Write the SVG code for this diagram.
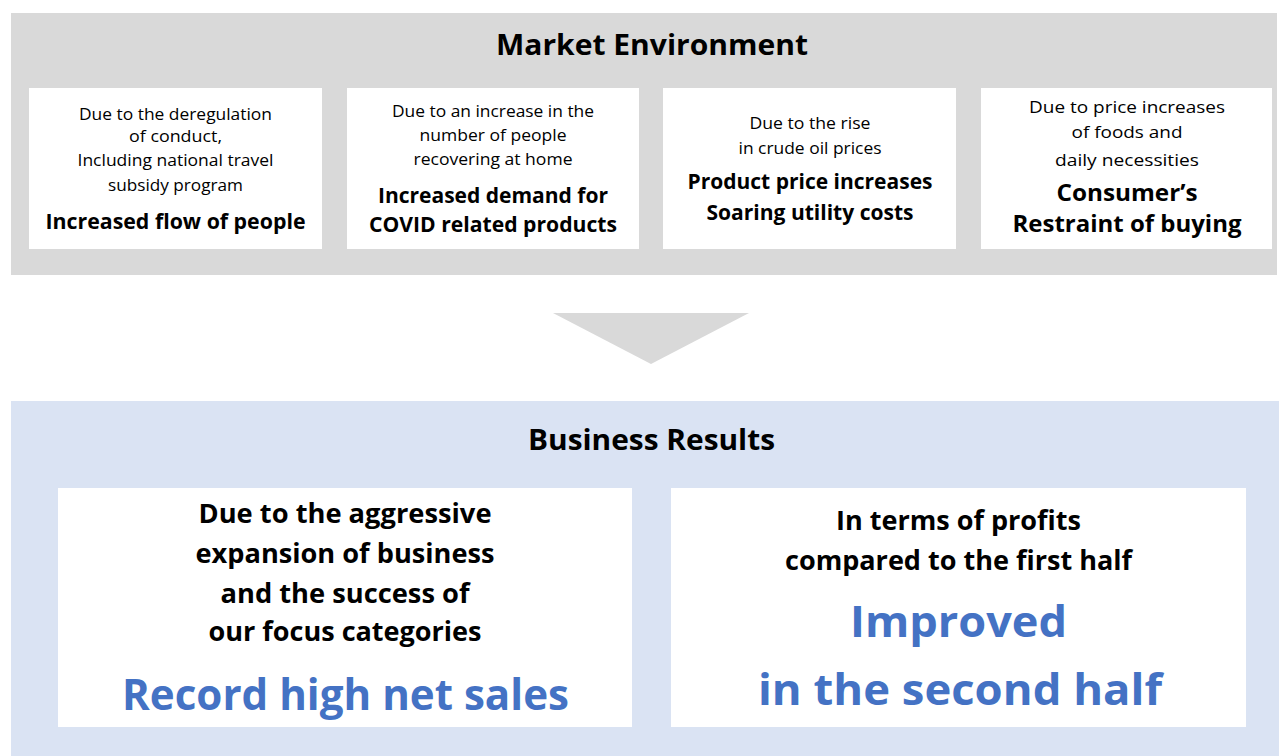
<svg xmlns="http://www.w3.org/2000/svg" width="1279" height="756" viewBox="0 0 1279 756">
  <style>
    text { font-family: "Open Sans", "Liberation Sans", sans-serif; fill: #000; text-anchor: middle; }
    .title { font-size: 29px; font-weight: 700; }
    .note { font-size: 16.5px; font-weight: 400; }
    .head { font-size: 22px; font-weight: 700; }
    .head2 { font-size: 24px; font-weight: 700; }
    .body { font-size: 26px; font-weight: 700; }
    .big { font-size: 43px; font-weight: 700; fill: #4472C4; }
    .panel-env { fill: #D9D9D9; }
    .panel-res { fill: #DAE3F3; }
    .card { fill: #FFFFFF; }
  </style>

  <rect width="1279" height="756" fill="#FFFFFF"/>

  <!-- Market environment panel -->
  <g id="market-environment">
    <rect class="panel-env" x="11" y="13" width="1266" height="262"/>
    <text class="title" x="652" y="55" textLength="312" lengthAdjust="spacingAndGlyphs">Market Environment</text>
  </g>

  <g id="factor-travel">
    <rect class="card" x="29" y="88" width="293" height="161"/>
    <text class="note" x="175.5" y="120" textLength="193" lengthAdjust="spacingAndGlyphs">Due to the deregulation</text>
    <text class="note" x="175.5" y="142" textLength="93" lengthAdjust="spacingAndGlyphs">of conduct,</text>
    <text class="note" x="175.5" y="166" textLength="196" lengthAdjust="spacingAndGlyphs">Including national travel</text>
    <text class="note" x="175.5" y="191" textLength="135" lengthAdjust="spacingAndGlyphs">subsidy program</text>
    <text class="head" x="175.5" y="229" textLength="260" lengthAdjust="spacingAndGlyphs">Increased flow of people</text>
  </g>

  <g id="factor-covid">
    <rect class="card" x="347" y="88" width="292" height="161"/>
    <text class="note" x="493" y="117" textLength="202" lengthAdjust="spacingAndGlyphs">Due to an increase in the</text>
    <text class="note" x="493" y="141" textLength="147" lengthAdjust="spacingAndGlyphs">number of people</text>
    <text class="note" x="493" y="165" textLength="159" lengthAdjust="spacingAndGlyphs">recovering at home</text>
    <text class="head" x="493" y="203" textLength="230" lengthAdjust="spacingAndGlyphs">Increased demand for</text>
    <text class="head" x="493" y="232" textLength="248" lengthAdjust="spacingAndGlyphs">COVID related products</text>
  </g>

  <g id="factor-oil">
    <rect class="card" x="663" y="88" width="293" height="161"/>
    <text class="note" x="810" y="129" textLength="121" lengthAdjust="spacingAndGlyphs">Due to the rise</text>
    <text class="note" x="810" y="154" textLength="143" lengthAdjust="spacingAndGlyphs">in crude oil prices</text>
    <text class="head" x="810" y="189" textLength="245" lengthAdjust="spacingAndGlyphs">Product price increases</text>
    <text class="head" x="810" y="220" textLength="207" lengthAdjust="spacingAndGlyphs">Soaring utility costs</text>
  </g>

  <g id="factor-prices">
    <rect class="card" x="981" y="88" width="291" height="161"/>
    <text class="note" x="1127" y="113" textLength="196" lengthAdjust="spacingAndGlyphs">Due to price increases</text>
    <text class="note" x="1127" y="138" textLength="111" lengthAdjust="spacingAndGlyphs">of foods and</text>
    <text class="note" x="1127" y="166" textLength="144" lengthAdjust="spacingAndGlyphs">daily necessities</text>
    <text class="head2" x="1127" y="201" textLength="141" lengthAdjust="spacingAndGlyphs">Consumer’s</text>
    <text class="head2" x="1127" y="232" textLength="229" lengthAdjust="spacingAndGlyphs">Restraint of buying</text>
  </g>

  <!-- Downward flow arrow -->
  <g id="connectors">
    <polygon points="553,313 749,313 651,364" fill="#D9D9D9"/>
  </g>

  <!-- Business results panel -->
  <g id="business-results">
    <rect class="panel-res" x="11" y="401" width="1268" height="355"/>
    <text class="title" x="651.5" y="450" textLength="247" lengthAdjust="spacingAndGlyphs">Business Results</text>
  </g>

  <g id="result-sales">
    <rect class="card" x="58" y="488" width="574" height="239"/>
    <text class="body" x="345" y="523" textLength="293" lengthAdjust="spacingAndGlyphs">Due to the aggressive</text>
    <text class="body" x="345" y="563" textLength="299" lengthAdjust="spacingAndGlyphs">expansion of business</text>
    <text class="body" x="345" y="603" textLength="249" lengthAdjust="spacingAndGlyphs">and the success of</text>
    <text class="body" x="345" y="641" textLength="273" lengthAdjust="spacingAndGlyphs">our focus categories</text>
    <text class="big" x="345.5" y="710" textLength="447" lengthAdjust="spacingAndGlyphs">Record high net sales</text>
  </g>

  <g id="result-profit">
    <rect class="card" x="671" y="488" width="575" height="239"/>
    <text class="body" x="958.5" y="530" textLength="245" lengthAdjust="spacingAndGlyphs">In terms of profits</text>
    <text class="body" x="958.5" y="570" textLength="347" lengthAdjust="spacingAndGlyphs">compared to the first half</text>
    <text class="big" x="958.5" y="637" textLength="217" lengthAdjust="spacingAndGlyphs">Improved</text>
    <text class="big" x="960" y="705" textLength="404" lengthAdjust="spacingAndGlyphs">in the second half</text>
  </g>
</svg>
